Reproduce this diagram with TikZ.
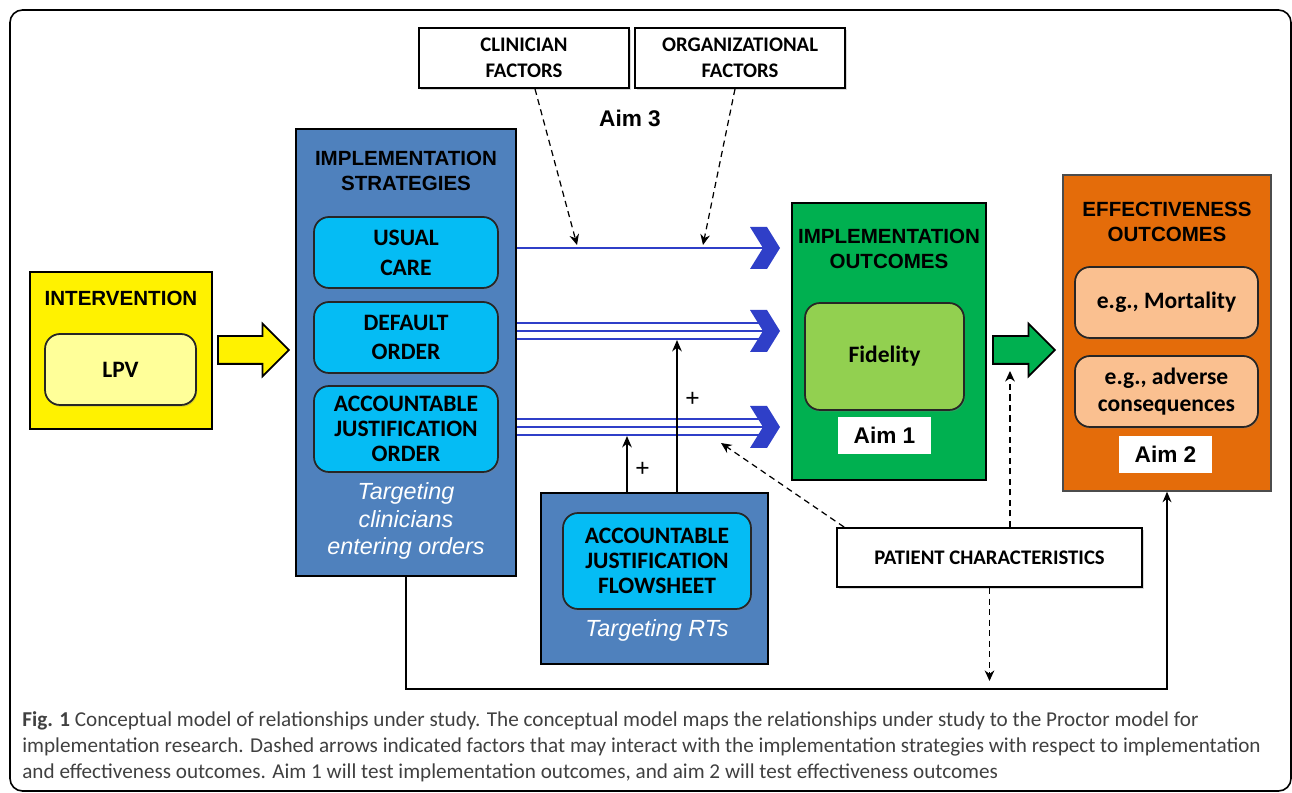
\documentclass[tikz,border=0pt]{standalone}
\usepackage{fontspec}
\setmainfont{Liberation Sans}
\newfontfamily\calib{Carlito}
\usetikzlibrary{arrows.meta,shapes.arrows,shadows,calc}

\definecolor{stratblue}{HTML}{4F81BD}
\definecolor{boxcyan}{HTML}{05BCF4}
\definecolor{lpvyellow}{HTML}{FFFF99}
\definecolor{outgreen}{HTML}{00B050}
\definecolor{fidgreen}{HTML}{92D050}
\definecolor{efforange}{HTML}{E46C0A}
\definecolor{peach}{HTML}{FAC090}
\definecolor{chevblue}{HTML}{2F3FC8}
\definecolor{capgray}{HTML}{404040}

\tikzset{
  bigbox/.style={draw=black, line width=1.2pt, inner sep=0pt},
  roundbox/.style={draw=black!85, line width=1pt, rounded corners=0.3cm, inner sep=0pt, align=center,
    drop shadow={opacity=0.35, shadow xshift=0.6pt, shadow yshift=-1pt},
    font=\calib\bfseries\fontsize{13.4}{17}\selectfont},
  factorbox/.style={draw=black, line width=1.1pt, fill=white, align=center, inner sep=0pt,
    drop shadow={opacity=0.3, shadow xshift=1pt, shadow yshift=-1pt},
    font=\calib\bfseries\fontsize{11.8}{14.7}\selectfont},
  headtext/.style={align=center, font=\bfseries\fontsize{11.7}{14.2}\selectfont},
  aimbox/.style={fill=white, inner sep=0pt, minimum width=1.86cm, minimum height=0.74cm,
    font=\bfseries\fontsize{12.9}{15}\selectfont},
  targettext/.style={align=center, text=white, font=\itshape\fontsize{13.3}{15.9}\selectfont},
  blockarrow/.style={single arrow, draw=black, line width=1pt, inner xsep=0pt, inner ysep=0.26cm,
    minimum height=1.24cm, single arrow head extend=0.25cm, anchor=tail},
  dasharrow/.style={dash pattern=on 3.5pt off 2.5pt, line width=0.7pt, -{Stealth[length=6pt,width=5.5pt]}},
  plusarrow/.style={line width=0.8pt, -{Stealth[length=6.5pt,width=5.5pt]}},
  blueline/.style={chevblue, line width=1.1pt},
}

\begin{document}
\begin{tikzpicture}[x=0.02cm,y=-0.02cm]
\useasboundingbox (0,0) rectangle (1292,793);
\draw[line width=0.9pt, rounded corners=0.25cm] (10,10) rectangle (1291,791);

% intervention
\node[bigbox, fill=yellow, minimum width=3.64cm, minimum height=3.14cm] (interv) at (121,350.5) {};
\node[headtext] (intervt) at (121,298) {INTERVENTION};
\node[roundbox, fill=lpvyellow, minimum width=3.02cm, minimum height=1.42cm] (lpv) at (120.5,369.5) {LPV};
\node[blockarrow, fill=yellow, minimum height=1.42cm] (yarr) at (217,350) {};

% strategies
\node[bigbox, fill=stratblue, minimum width=4.4cm, minimum height=8.94cm] (strat) at (406,352.5) {};
\node[headtext] (stratt) at (406,170.5) {IMPLEMENTATION\\STRATEGIES};
\node[roundbox, fill=boxcyan, minimum width=3.68cm, minimum height=1.42cm] (usual) at (406,252.5) {USUAL\\CARE};
\node[roundbox, fill=boxcyan, minimum width=3.68cm, minimum height=1.42cm] (default) at (406,337.5) {DEFAULT\\ORDER};
\node[roundbox, fill=boxcyan, minimum width=3.68cm, minimum height=1.72cm,
  font=\calib\bfseries\fontsize{13.4}{14.2}\selectfont] (ajo) at (406,429) {ACCOUNTABLE\\JUSTIFICATION\\ORDER};
\node[targettext] (stratgt) at (406,521) {Targeting\\clinicians\\entering orders};

% factors
\node[factorbox, minimum width=4.2cm, minimum height=1.2cm] (clin) at (524,58) {CLINICIAN\\FACTORS};
\node[factorbox, minimum width=4.2cm, minimum height=1.2cm] (org) at (740,58) {ORGANIZATIONAL\\FACTORS};
\node[font=\bfseries\fontsize{12.9}{15}\selectfont] (aim3) at (630,118) {Aim 3};

% flowsheet
\node[bigbox, fill=stratblue, minimum width=4.54cm, minimum height=3.42cm] (flow) at (654.5,578.5) {};
\node[roundbox, fill=boxcyan, minimum width=3.76cm, minimum height=1.92cm,
  font=\calib\bfseries\fontsize{13.4}{14.2}\selectfont] (flowsh) at (657,561) {ACCOUNTABLE\\JUSTIFICATION\\FLOWSHEET};
\node[targettext] (flowt) at (657,630) {Targeting RTs};

% implementation outcomes
\node[bigbox, fill=outgreen, minimum width=3.88cm, minimum height=5.54cm] (implout) at (889,341.5) {};
\node[headtext] (imploutt) at (889,248.5) {IMPLEMENTATION\\OUTCOMES};
\node[roundbox, fill=fidgreen, minimum width=3.18cm, minimum height=2.14cm] (fid) at (884.5,356.5) {Fidelity};
\node[aimbox] (aim1) at (884.5,435.5) {Aim 1};
\node[blockarrow, fill=outgreen] (garr) at (992,350) {};

% effectiveness outcomes
\node[bigbox, draw=black!70, line width=0.8pt, fill=efforange, minimum width=4.16cm, minimum height=6.32cm] (effout) at (1167,333) {};
\node[headtext] (effoutt) at (1167,221.5) {EFFECTIVENESS\\OUTCOMES};
\node[roundbox, fill=peach, minimum width=3.66cm, minimum height=1.42cm] (mort) at (1166.5,302.5) {e.g., Mortality};
\node[roundbox, fill=peach, minimum width=3.66cm, minimum height=1.42cm,
  font=\calib\bfseries\fontsize{13.4}{15}\selectfont] (adv) at (1166.5,391.5) {e.g., adverse\\consequences};
\node[aimbox] (aim2) at (1165.5,454.5) {Aim 2};

% patient
\node[factorbox, minimum width=6.1cm, minimum height=1.18cm] (pat) at (989.5,557.5) {PATIENT CHARACTERISTICS};

% chevron ends
\coordinate (c1) at (780,248);
\coordinate (c2) at (780,331);
\coordinate (c3) at (780,427);
\draw[blueline] (strat.east |- c1) -- ($(c1)+(-15,0)$);
\foreach \c in {c2,c3}
  \foreach \d in {-8,0,8}
    \draw[blueline] ($(strat.east |- \c)+(0,\d)$) -- ($(\c)+(-15,\d)$);
\foreach \c in {c1,c2,c3}
  \fill[chevblue, shift={(\c)}] (-30,-21) -- (-13,-21) -- (0,0) -- (-13,21) -- (-30,21) -- (-17,0) -- cycle;

% dashed factor arrows
\coordinate (u1) at (577,245);
\coordinate (u2) at (703,245);
\coordinate (pa) at (721,443);
\coordinate (pu) at (1010,371);
\draw[dasharrow] ([xshift=0.22cm]clin.south) -- (u1);
\draw[dasharrow] ([xshift=-0.1cm]org.south) -- (u2);
\draw[dasharrow] ([xshift=0.16cm]pat.north west) -- (pa);
\draw[dasharrow] (pat.north -| pu) -- (pu);
\draw[dasharrow] (pat.south) -- ++(0,93);

% flowsheet effects
\coordinate (p1) at (627,436);
\coordinate (p2) at (677,340);
\draw[plusarrow] (flow.north -| p1) -- (p1) node[pos=0.4, right=1pt, font=\fontsize{14}{14}\selectfont] {+};
\draw[plusarrow] (flow.north -| p2) -- (p2) node[pos=0.61, right=1pt, font=\fontsize{14}{14}\selectfont] {+};

% strategies to effectiveness
\draw[line width=1.1pt, -{Stealth[length=6pt,width=5pt]}] (strat.south) -- ++(0,112) -| (effout.south);

% caption
\node[anchor=north west, align=left, inner sep=0pt, text=capgray,
  font=\calib\fontsize{12.05}{15}\selectfont] (cap) at (22,711)
  {\textbf{Fig. 1} Conceptual model of relationships under study. The conceptual model maps the relationships under study to the Proctor model for\\
   implementation research. Dashed arrows indicated factors that may interact with the implementation strategies with respect to implementation\\
   and effectiveness outcomes. Aim 1 will test implementation outcomes, and aim 2 will test effectiveness outcomes};
\end{tikzpicture}
\end{document}
